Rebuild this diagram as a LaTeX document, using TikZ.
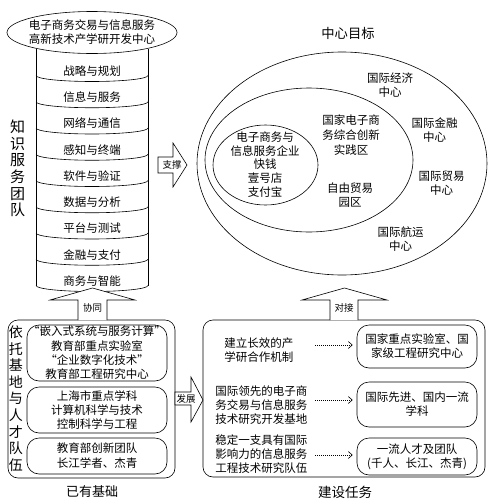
\documentclass[tikz,border=0pt]{standalone}
\usepackage{fontspec}
\setmainfont{Noto Sans CJK SC}
\usetikzlibrary{arrows.meta}
\begin{document}
\begin{tikzpicture}[x=1pt,y=-1pt,line width=0.6pt,
  lbl/.style={inner sep=0pt,align=center,font=\fontsize{11.5}{14}\selectfont},
  lblL/.style={inner sep=0pt,align=left,anchor=west,font=\fontsize{11.5}{14}\selectfont},
  big/.style={inner sep=0pt,align=center,font=\fontsize{15}{16.7}\selectfont},
  heading/.style={inner sep=0pt,font=\fontsize{13.3}{16}\selectfont},
  tag/.style={inner sep=0pt,font=\fontsize{9.5}{11}\selectfont},
  panel/.style={draw,rounded corners=10pt,inner sep=0pt},
  card/.style={draw,rounded corners=12pt,inner sep=0pt,align=center,font=\fontsize{11.5}{14}\selectfont},
  blockarrow/.style={draw,fill=white,line join=miter},
  dotarr/.style={dash pattern=on 1pt off 1pt,shorten >=4pt,-{Straight Barb[length=4pt,width=7pt]}}
]
\useasboundingbox (0,0) rectangle (490,501);

% ---------- knowledge-service cylinder ----------
\node[lbl] (hub) at (92,32.5) {电子商务交易与信息服务\\高新技术产学研开发中心};
\draw (hub.center) ellipse [x radius=85, y radius=21];
\draw (36,48.7) -- (36,285.5) (148,48.7) -- (148,285.5);
\foreach \i in {0,...,8}{
  \pgfmathsetmacro\s{75.5+26.25*\i}
  \draw (36,\s) arc[start angle=180,end angle=0,x radius=56,y radius=6];
}
\foreach \t [count=\i from 0] in {战略与规划,信息与服务,网络与通信,感知与终端,软件与验证,数据与分析,平台与测试,金融与支付,商务与智能}{
  \pgfmathsetmacro\y{71+26.25*\i}
  \node[lbl] (row\i) at (92,\y) {\t};
}
\node[big] (team) at (17.5,168.5) {知\\识\\服\\务\\团\\队};

% ---------- 支撑 ----------
\draw[blockarrow] (158,157) -- (173,157) -- (173,143) -- (187,165) -- (173,187) -- (173,173) -- (158,173) -- cycle;
\node[tag] (support) at (172,165) {支撑};

% ---------- target ellipses ----------
\node[heading] (goal) at (348,33) {中心目标};
\coordinate (eO) at (342,163.5);
\coordinate (eM) at (309,160);
\coordinate (eI) at (265.5,165);
\draw (eO) ellipse [x radius=145, y radius=111.5];
\draw (eM) ellipse [x radius=104, y radius=72];
\draw (eI) ellipse [x radius=52.5, y radius=40];
\node[lbl,font=\fontsize{11.5}{13.7}\selectfont] (firms) at (265,164.5) {电子商务与\\信息服务企业\\快钱\\壹号店\\支付宝};
\node[lbl,font=\fontsize{11.5}{15}\selectfont] (zone) at (351,135) {国家电子商\\务综合创新\\实践区};
\node[lbl] (ftz) at (350,195) {自由贸易\\园区};
\node[lbl] (econ) at (390,85) {国际经济\\中心};
\node[lbl] (fin) at (434.5,130) {国际金融\\中心};
\node[lbl] (trade) at (441.5,183.5) {国际贸易\\中心};
\node[lbl] (ship) at (400.5,239.5) {国际航运\\中心};

% ---------- existing foundation ----------
\node[panel,minimum width=167pt,minimum height=158pt] (base) at (91.5,399) {};
\node[big,font=\fontsize{14}{16.6}\selectfont] (basetitle) at (16,398.5) {依\\托\\基\\地\\与\\人\\才\\队\\伍};
\node[card,minimum width=140pt,minimum height=56pt,font=\fontsize{11.5}{14.3}\selectfont] (lab) at (97,353) {“嵌入式系统与服务计算”\\教育部重点实验室\\“企业数字化技术”\\教育部工程研究中心};
\node[card,minimum width=140pt,minimum height=46pt] (disc) at (97,410) {上海市重点学科\\计算机科学与技术\\控制科学与工程};
\node[card,minimum width=140pt,minimum height=36pt,font=\fontsize{11.5}{15}\selectfont] (crew) at (97,456) {教育部创新团队\\长江学者、杰青};
\node[heading,font=\fontsize{13}{16}\selectfont] (basecap) at (92,492) {已有基础};

% ---------- 协同 ----------
\draw[blockarrow] (78,320) -- (78,300) -- (50,300) -- (92.5,288) -- (135,300) -- (107,300) -- (107,320);
\node[tag] (coop) at (92.5,308) {协同};

% ---------- 发展 ----------
\draw[blockarrow] (175,392) -- (191,392) -- (191,377) -- (203,400) -- (191,422) -- (191,405) -- (175,405) -- cycle;
\node[tag] (grow) at (186,398.5) {发展};

% ---------- construction tasks ----------
\node[panel,minimum width=282pt,minimum height=157pt] (tasks) at (344,398.5) {};
\node[lblL] (t1) at (224,350.5) {建立长效的产\\学研合作机制};
\node[lblL] (t2) at (215,405) {国际领先的电子商\\务交易与信息服务\\技术研究开发基地};
\node[lblL] (t3) at (215,454.5) {稳定一支具有国际\\影响力的信息服务\\工程技术研究队伍};
\node[card,minimum width=120pt,minimum height=43pt] (r1) at (417,346.5) {国家重点实验室、国\\家级工程研究中心};
\node[card,minimum width=120pt,minimum height=45pt] (r2) at (417,404.5) {国际先进、国内一流\\学科};
\node[card,minimum width=120pt,minimum height=37pt] (r3) at (417,456.5) {一流人才及团队\\(千人、长江、杰青)};
\coordinate (d1) at (315,345);
\coordinate (d2) at (315,400);
\coordinate (d3) at (315,455);
\draw[dotarr] (d1) -- (d1 -| r1.west);
\draw[dotarr] (d2) -- (d2 -| r2.west);
\draw[dotarr] (d3) -- (d3 -| r3.west);
\node[heading,font=\fontsize{13.5}{16}\selectfont] (taskcap) at (345,492) {建设任务};

% ---------- 对接 ----------
\draw[blockarrow] (330,320) -- (330,300) -- (302,300) -- (344.5,288) -- (387,300) -- (358,300) -- (358,320);
\node[tag] (link) at (344,308) {对接};
\end{tikzpicture}
\end{document}
